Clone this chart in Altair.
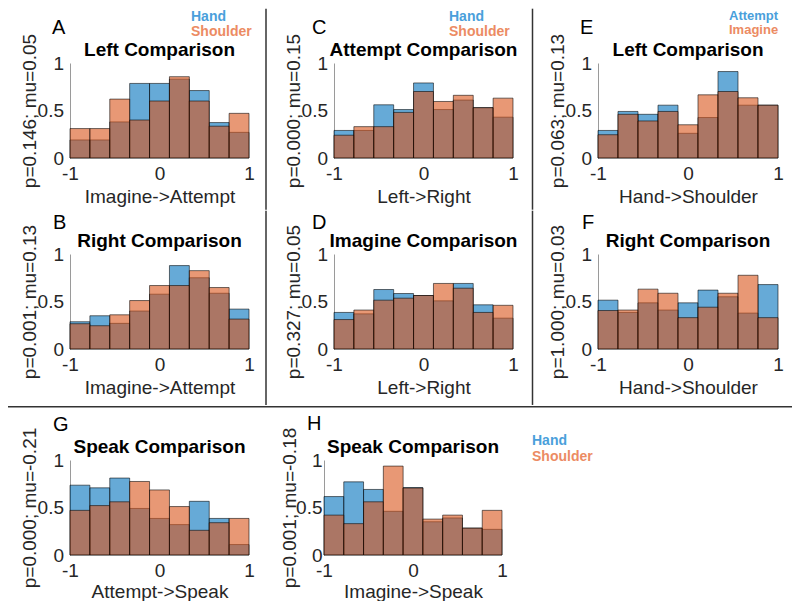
import altair as alt
import pandas as pd

# histogram bin edges (9 bins from -1 to 1)
edges = [-1.0, -0.7778, -0.5556, -0.3333, -0.1111, 0.1111, 0.3333, 0.5556, 0.7778, 1.0]

# bar heights (blue = first group, orange = second group)
A_blue = [0.19, 0.19, 0.38, 0.785, 0.785, 0.83, 0.71, 0.373, 0.27]
A_orange = [0.31, 0.31, 0.62, 0.40, 0.60, 0.856, 0.60, 0.335, 0.47]
B_blue = [0.287, 0.35, 0.27, 0.40, 0.577, 0.878, 0.75, 0.587, 0.42]
B_orange = [0.266, 0.245, 0.36, 0.51, 0.668, 0.668, 0.825, 0.647, 0.315]
C_blue = [0.29, 0.29, 0.56, 0.51, 0.79, 0.51, 0.61, 0.53, 0.43]
C_orange = [0.24, 0.33, 0.33, 0.48, 0.70, 0.595, 0.66, 0.53, 0.63]
D_blue = [0.385, 0.37, 0.626, 0.584, 0.563, 0.507, 0.69, 0.465, 0.325]
D_orange = [0.31, 0.41, 0.514, 0.535, 0.563, 0.69, 0.64, 0.385, 0.46]
E_blue = [0.29, 0.49, 0.46, 0.556, 0.26, 0.426, 0.91, 0.556, 0.556]
E_orange = [0.245, 0.46, 0.39, 0.49, 0.35, 0.665, 0.70, 0.634, 0.556]
F_blue = [0.514, 0.385, 0.486, 0.41, 0.486, 0.62, 0.55, 0.378, 0.678]
F_orange = [0.405, 0.41, 0.63, 0.587, 0.33, 0.44, 0.587, 0.776, 0.33]
G_blue = [0.735, 0.707, 0.81, 0.49, 0.385, 0.32, 0.565, 0.385, 0.11]
G_orange = [0.47, 0.52, 0.56, 0.774, 0.685, 0.51, 0.26, 0.34, 0.385]
H_blue = [0.615, 0.77, 0.69, 0.46, 0.71, 0.35, 0.39, 0.283, 0.27]
H_orange = [0.42, 0.33, 0.56, 0.936, 0.705, 0.378, 0.42, 0.283, 0.47]

x_ticks = [-1, 0, 1]
y_ticks = [0, 0.5, 1]

BLUE = "#0072BD"
ORANGE = "#D95319"
TXT_BLUE = "#4a9fdb"
TXT_ORANGE = "#ec8b63"
LINE = "#333333"
FONT = "Liberation Sans"
FS = 19
ONE = pd.DataFrame({"k": [0]})


def txt(text, x, y, size=FS, weight="normal", color="black", align="left"):
    return alt.Chart(ONE).mark_text(
        text=text, align=align, baseline="alphabetic", fontSize=size,
        fontWeight=weight, color=color, font=FONT
    ).encode(x=alt.value(x), y=alt.value(y))


def sep(x1, x2, y1, y2):
    return alt.Chart(ONE).mark_rect(color=LINE).encode(
        x=alt.value(x1), x2=alt.value(x2), y=alt.value(y1), y2=alt.value(y2))


def panel(letter, title, xtitle, ytitle, blue, orange, width=179, height=95,
          letter_x=-18, letter_y=-29, ytitle_x=-35, label_pad=6.5,
          xtitle_y=44, legend=None, extra=None):
    df = pd.DataFrame({"start": edges[:-1], "end": edges[1:],
                       "blue": blue, "orange": orange})
    xscale = alt.Scale(domain=[-1, 1], nice=False, zero=False)
    yscale = alt.Scale(domain=[0, 1], nice=False, zero=False)
    xaxis = alt.Axis(values=x_ticks, labelExpr="datum.value", title=xtitle,
                     domain=False, ticks=False, tickSize=0, grid=False,
                     labelPadding=21.5, labelBaseline="alphabetic",
                     labelFlush=False, labelOverlap=False,
                     titleX=width / 2, titleY=xtitle_y, titleAlign="center",
                     titleBaseline="alphabetic")
    yaxis = alt.Axis(values=y_ticks, labelExpr="datum.value", title=ytitle,
                     domain=True, domainColor="#9a9a9a", domainWidth=1,
                     ticks=False, tickSize=0, grid=False,
                     labelPadding=label_pad, labelOverlap=False,
                     titleAngle=270, titleX=ytitle_x, titleY=height / 2,
                     titleAlign="center", titleBaseline="alphabetic")
    base = alt.Chart(df)
    b = base.mark_rect(fill=BLUE, fillOpacity=0.6, stroke="black",
                       strokeWidth=0.7, strokeOpacity=0.8).encode(
        x=alt.X("start:Q", scale=xscale, axis=xaxis),
        x2="end:Q",
        y=alt.Y("blue:Q", scale=yscale, axis=yaxis),
        y2=alt.Y2(datum=0))
    o = base.mark_rect(fill=ORANGE, fillOpacity=0.6, stroke="black",
                       strokeWidth=0.7, strokeOpacity=0.8).encode(
        x=alt.X("start:Q", scale=xscale, axis=xaxis),
        x2="end:Q",
        y=alt.Y("orange:Q", scale=yscale, axis=yaxis),
        y2=alt.Y2(datum=0))
    layers = [b, o,
              txt(letter, letter_x, letter_y, size=20),
              txt(title, width / 2, -7, size=FS, weight="bold", align="center")]
    if legend:
        (l1, l2, lx, ly1, ly2, lsize) = legend
        layers.append(txt(l1, lx, ly1, size=lsize, weight="bold", color=TXT_BLUE))
        layers.append(txt(l2, lx, ly2, size=lsize, weight="bold", color=TXT_ORANGE))
    if extra:
        layers.extend(extra)
    return alt.layer(*layers).properties(width=width, height=height)


# separator lines, split per row so that each row's extent is set by them
row1_seps = [sep(195.25, 196.75, -54.3, 146.7), sep(461.75, 463.25, -54.3, 146.7)]
row2_seps = [sep(195.25, 196.75, -43.3, 150.95), sep(461.75, 463.25, -43.3, 150.95)]
row3_seps = [sep(-62, 722, -54.05, -52.55)]

pA = panel("A", "Left Comparison", "Imagine->Attempt", "p=0.146; mu=0.05",
           A_blue, A_orange, legend=("Hand", "Shoulder", 121, -42, -27, 14),
           extra=row1_seps)
pC = panel("C", "Attempt Comparison", "Left->Right", "p=0.000; mu=0.15",
           C_blue, C_orange, letter_x=-22,
           legend=("Hand", "Shoulder", 115, -42, -27, 14))
pE = panel("E", "Left Comparison", "Hand->Shoulder", "p=0.063; mu=0.13",
           E_blue, E_orange, width=180,
           legend=("Attempt", "Imagine", 131, -43, -29, 13))
pB = panel("B", "Right Comparison", "Imagine->Attempt", "p=0.001; mu=0.13",
           B_blue, B_orange, letter_x=-17, letter_y=-25, extra=row2_seps)
pD = panel("D", "Imagine Comparison", "Left->Right", "p=0.327; mu=0.05",
           D_blue, D_orange, letter_x=-22, letter_y=-25)
pF = panel("F", "Right Comparison", "Hand->Shoulder", "p=1.000; mu=0.03",
           F_blue, F_orange, width=180, letter_x=-16, letter_y=-25)
pG = panel("G", "Speak Comparison", "Attempt->Speak", "p=0.000; mu=-0.21",
           G_blue, G_orange, letter_x=-17, xtitle_y=42, extra=row3_seps)
pH = panel("H", "Speak Comparison", "Imagine->Speak", "p=0.001; mu=-0.18",
           H_blue, H_orange, width=178, letter_x=-17, letter_y=-30,
           ytitle_x=-29, label_pad=2, xtitle_y=42,
           legend=("Hand", "Shoulder", 208, -15.5, 0.5, 14))

row1 = alt.hconcat(pA, pC, pE, spacing=85, bounds="flush")
row2 = alt.hconcat(pB, pD, pF, spacing=85, bounds="flush")
row3 = alt.hconcat(pG, pH, spacing=75, bounds="flush")

chart = alt.vconcat(row1, row2, row3, spacing=0, bounds="full").properties(
    padding=0
).configure_view(stroke=None).configure_axis(
    labelFont=FONT, titleFont=FONT, labelFontSize=FS, titleFontSize=FS,
    labelColor="#262626", titleColor="#262626", titleFontWeight="normal"
)

chart.save("out.html", embed_options={"renderer": "svg", "actions": False})
